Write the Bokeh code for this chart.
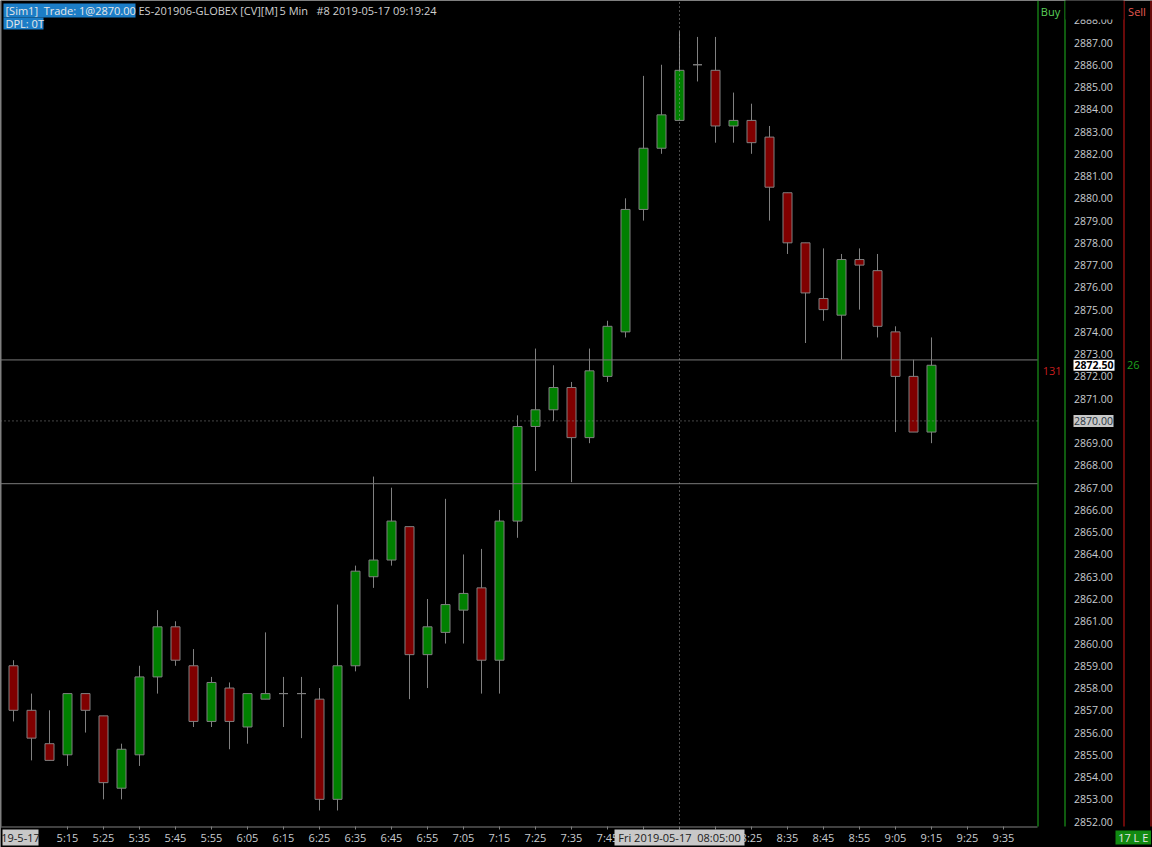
from bokeh.plotting import figure
from bokeh.models import Range1d, LinearAxis, FixedTicker, PrintfTickFormatter
from bokeh.core.properties import value
from bokeh.embed import file_html
from bokeh.resources import INLINE

# ---------------- data ----------------
bar_times = ["5:00", "5:05", "5:10", "5:15", "5:20", "5:25", "5:30", "5:35", "5:40", "5:45",
             "5:50", "5:55", "6:00", "6:05", "6:10", "6:15", "6:20", "6:25", "6:30", "6:35",
             "6:40", "6:45", "6:50", "6:55", "7:00", "7:05", "7:10", "7:15", "7:20", "7:25",
             "7:30", "7:35", "7:40", "7:45", "7:50", "7:55", "8:00", "8:05", "8:10", "8:15",
             "8:20", "8:25", "8:30", "8:35", "8:40", "8:45", "8:50", "8:55", "9:00", "9:05",
             "9:10", "9:15"]
opens = [2859.0, 2857.0, 2855.5, 2855.0, 2857.75, 2856.75, 2853.5, 2855.0, 2858.5, 2860.75,
         2859.0, 2856.5, 2858.0, 2856.25, 2857.5, 2857.75, 2857.75, 2857.5, 2853.0, 2859.0,
         2863.0, 2863.75, 2865.25, 2859.5, 2860.5, 2861.5, 2862.5, 2859.25, 2865.5, 2869.75,
         2870.5, 2871.5, 2869.25, 2872.0, 2874.0, 2879.5, 2882.25, 2883.5, 2886.0, 2885.75,
         2883.25, 2883.5, 2882.75, 2880.25, 2878.0, 2875.5, 2874.75, 2877.25, 2876.75, 2874.0,
         2872.0, 2869.5]
highs = [2859.25, 2857.75, 2857.0, 2857.75, 2857.75, 2856.75, 2855.5, 2859.0, 2861.5, 2861.0,
         2859.75, 2858.5, 2858.25, 2857.75, 2860.5, 2858.5, 2858.5, 2858.0, 2861.75, 2863.5,
         2867.5, 2867.0, 2865.25, 2862.0, 2866.5, 2864.0, 2864.25, 2866.0, 2870.25, 2873.25,
         2872.5, 2871.75, 2873.25, 2874.5, 2880.0, 2885.5, 2886.0, 2887.5, 2887.25, 2887.25,
         2884.75, 2884.25, 2883.25, 2880.25, 2878.0, 2877.75, 2877.5, 2877.75, 2877.5, 2874.25,
         2872.75, 2873.75]
lows = [2856.5, 2854.75, 2854.75, 2854.5, 2856.0, 2853.0, 2853.0, 2854.5, 2857.75, 2859.0,
        2856.25, 2856.25, 2855.25, 2855.5, 2857.5, 2856.25, 2855.75, 2852.5, 2852.5, 2858.75,
        2862.5, 2863.5, 2857.5, 2858.0, 2860.0, 2860.0, 2857.75, 2857.75, 2864.75, 2867.75,
        2870.0, 2867.25, 2869.0, 2871.75, 2873.75, 2879.0, 2882.0, 2883.5, 2885.25, 2882.5,
        2882.5, 2882.0, 2879.0, 2877.5, 2873.5, 2874.5, 2872.75, 2875.0, 2873.75, 2869.5,
        2869.5, 2869.0]
closes = [2857.0, 2855.75, 2854.75, 2857.75, 2857.0, 2853.75, 2855.25, 2858.5, 2860.75, 2859.25,
          2856.5, 2858.25, 2856.5, 2857.75, 2857.75, 2857.75, 2857.75, 2853.0, 2859.0, 2863.25,
          2863.75, 2865.5, 2859.5, 2860.75, 2861.75, 2862.25, 2859.25, 2865.5, 2869.75, 2870.5,
          2871.5, 2869.25, 2872.25, 2874.25, 2879.5, 2882.25, 2883.75, 2885.75, 2886.0, 2883.25,
          2883.5, 2882.5, 2880.5, 2878.0, 2875.75, 2875.0, 2877.25, 2877.0, 2874.25, 2872.0,
          2869.5, 2872.5]

axis_time_labels = ["5:15", "5:25", "5:35", "5:45", "5:55", "6:05", "6:15", "6:25", "6:35",
                    "6:45", "6:55", "7:05", "7:15", "7:25", "7:35", "7:45", "7:55", "8:05",
                    "8:15", "8:25", "8:35", "8:45", "8:55", "9:05", "9:15", "9:25", "9:35"]
price_ticks = [2852.0, 2853.0, 2854.0, 2855.0, 2856.0, 2857.0, 2858.0, 2859.0, 2860.0, 2861.0,
               2862.0, 2863.0, 2864.0, 2865.0, 2866.0, 2867.0, 2868.0, 2869.0, 2870.0, 2871.0,
               2872.0, 2873.0, 2874.0, 2875.0, 2876.0, 2877.0, 2878.0, 2879.0, 2880.0, 2881.0,
               2882.0, 2883.0, 2884.0, 2885.0, 2886.0, 2887.0, 2888.0]

last_price = 2872.50
trade_price = 2870.00
hline_prices = [2872.74, 2867.18]   # solid horizontal marker lines
crosshair_time = "8:05"
crosshair_label = "Fri 2019-05-17 \u00a008:05:00"
date_label = "19-5-17"
buy_count = "131"
sell_count = "26"
position_label = "17 L E"
header_trade = "[Sim1] \u00a0Trade: 1@2870.00"
header_instr = "ES-201906-GLOBEX [CV][M]"
header_period = "5 Min"
header_stamp = "#8 2019-05-17 09:19:24"
header_dpl = "DPL: 0T"

# ---------------- layout helpers ----------------
W, H = 1152, 847
BAR_PX = 18.0        # pixels per bar
X0_PX = 13.0         # pixel of first bar
MAIN_RIGHT = 1037    # right edge of the price pane
BAND_TOP = 826       # top of the time axis band
PXPP = 22.26         # pixels per price point
P_TOP = 2887 + 42 / PXPP  # price at top edge


def fx(px):
    return (px - X0_PX) / BAR_PX


def py(pyx):
    return P_TOP - pyx / PXPP


def t_index(t):
    h, m = t.split(":")
    return (int(h) * 60 + int(m) - 300) / 5.0


FONT = value("Open Sans")
AX_COLOR = "#c8ccd0"
GRAY = "#808080"

p = figure(width=W, height=H, x_range=Range1d(fx(0), fx(W)), y_range=Range1d(py(H), py(0)),
           output_backend="svg", toolbar_location=None, x_axis_type=None, y_axis_type=None,
           min_border=0, min_border_left=0, min_border_right=0, min_border_top=0,
           min_border_bottom=0, background_fill_color="black", border_fill_color="black",
           outline_line_color=None)

# ---------------- frame decorations ----------------
p.segment(x0=[fx(0.5)], y0=[py(0)], x1=[fx(0.5)], y1=[py(BAND_TOP)], line_color=GRAY, line_width=1)
p.segment(x0=[fx(0)], y0=[py(BAND_TOP + 0.5)], x1=[fx(MAIN_RIGHT)], y1=[py(BAND_TOP + 0.5)],
          line_color=GRAY, line_width=1)
p.segment(x0=[fx(MAIN_RIGHT + 0.5), fx(1064.5)], y0=[py(0), py(0)],
          x1=[fx(MAIN_RIGHT + 0.5), fx(1064.5)], y1=[py(BAND_TOP), py(BAND_TOP)],
          line_color="#1fb41f", line_width=1)
p.segment(x0=[fx(1123.5), fx(1150.5)], y0=[py(0), py(0)],
          x1=[fx(1123.5), fx(1150.5)], y1=[py(BAND_TOP), py(BAND_TOP)],
          line_color="#d21414", line_width=1)

# ---------------- candles ----------------
xs = [t_index(t) for t in bar_times]
p.segment(x0=xs, y0=lows, x1=xs, y1=highs, line_color=GRAY, line_width=1)
tops = [max(o, c) for o, c in zip(opens, closes)]
bots = [min(o, c) for o, c in zip(opens, closes)]
fills = ["#008000" if c >= o else "#800000" for o, c in zip(opens, closes)]
p.vbar(x=xs, top=tops, bottom=bots, width=0.5, fill_color=fills, line_color=GRAY, line_width=1)

# ---------------- price lines ----------------
p.segment(x0=[fx(0)] * len(hline_prices), y0=hline_prices,
          x1=[fx(MAIN_RIGHT)] * len(hline_prices), y1=hline_prices,
          line_color="#7a7a7a", line_width=1)
p.segment(x0=[fx(0)], y0=[trade_price], x1=[fx(MAIN_RIGHT)], y1=[trade_price],
          line_color="#8a8a8a", line_width=1, line_dash="1 3")
r = p.segment(x0=[t_index(crosshair_time)], y0=[py(2)], x1=[t_index(crosshair_time)],
              y1=[py(BAND_TOP)], line_color="#9a9a9a", line_width=1, line_dash="1 3")
r.level = "overlay"

# ---------------- axes ----------------
tick_idx = [t_index(t) for t in axis_time_labels]
xaxis = LinearAxis(fixed_location=py(BAND_TOP), ticker=FixedTicker(ticks=tick_idx),
                   major_label_overrides={i: lab for i, lab in zip(tick_idx, axis_time_labels)})
xaxis.axis_line_color = None
xaxis.major_tick_line_color = GRAY
xaxis.major_tick_in = 0
xaxis.major_tick_out = 3
xaxis.minor_tick_line_color = None
xaxis.major_label_standoff = 0
xaxis.major_label_text_font = "Open Sans"
xaxis.major_label_text_font_size = "11px"
xaxis.major_label_text_color = AX_COLOR
p.add_layout(xaxis, "below")

yaxis = LinearAxis(fixed_location=fx(1064.5), ticker=FixedTicker(ticks=price_ticks),
                   formatter=PrintfTickFormatter(format="%.2f"))
yaxis.axis_line_color = None
yaxis.major_tick_line_color = None
yaxis.major_tick_in = 0
yaxis.major_tick_out = 0
yaxis.minor_tick_line_color = None
yaxis.major_label_standoff = 9
yaxis.major_label_text_font = "Open Sans"
yaxis.major_label_text_font_size = "10.5px"
yaxis.major_label_text_color = AX_COLOR
p.add_layout(yaxis, "right")


# ---------------- overlay boxes & texts ----------------
def box(l, r_, t, b, color):
    g = p.quad(left=[fx(l)], right=[fx(r_)], top=[py(t)], bottom=[py(b)],
               fill_color=color, line_color=None)
    g.level = "overlay"
    return g


def txt(x, y, s, color, align="left", size="11px", style="normal"):
    g = p.text(x=[x], y=[y], text=[s], text_font=FONT, text_font_size=size,
               text_color=color, text_align=align, text_baseline="middle",
               text_font_style=style)
    g.level = "overlay"
    return g


# top cover of price column (header row)
box(1065, 1123, 0, 19, "black")
txt(fx(1050), py(11), "Buy", "#5ad25a", "center")
txt(fx(1136.5), py(11), "Sell", "#e65a50", "center")

# last price / trade price labels
g = p.quad(left=[fx(1073)], right=[fx(1114)], top=[last_price + 5.5 / PXPP],
           bottom=[last_price - 5.5 / PXPP], fill_color="white", line_color=None)
g.level = "overlay"
txt(fx(1093.5), last_price, f"{last_price:.2f}", "black", "center", size="10.5px", style="bold")
g = p.quad(left=[fx(1073)], right=[fx(1113)], top=[trade_price + 6 / PXPP],
           bottom=[trade_price - 6 / PXPP], fill_color="#c8c8c8", line_color=None)
g.level = "overlay"
txt(fx(1093), trade_price, f"{trade_price:.2f}", "#283440", "center", size="10.5px")

txt(fx(1051.7), py(370), buy_count, "#c81e1e", "center")
txt(fx(1132.7), py(364), sell_count, "#1ea01e", "center")

# bottom band labels
box(2, 38, 829, 845, "#c8c8c8")
txt(fx(20), py(837), date_label, "#202020", "center")
cx = t_index(crosshair_time)
g = p.quad(left=[cx - 65 / BAR_PX], right=[cx + 65 / BAR_PX], top=[py(829)], bottom=[py(845)],
           fill_color="#c8c8c8", line_color=None)
g.level = "overlay"
txt(cx, py(837), crosshair_label, "#202020", "center")
box(1115, 1150.5, 830, 844, "#118a11")
txt(fx(1132.7), py(837), position_label, "#e6e6e6", "center")

# header
box(3, 135, 3, 17, "#1c7dc6")
box(3, 43, 17, 29, "#1c7dc6")
txt(fx(5), py(10), header_trade, "#e8e8e8")
txt(fx(5), py(23), header_dpl, "#e8e8e8")
txt(fx(138), py(10), header_instr, "#d0d0d0")
txt(fx(279), py(10), header_period, "#d0d0d0")
txt(fx(316), py(10), header_stamp, "#d0d0d0")

open("out.html", "w").write(file_html(p, INLINE))
